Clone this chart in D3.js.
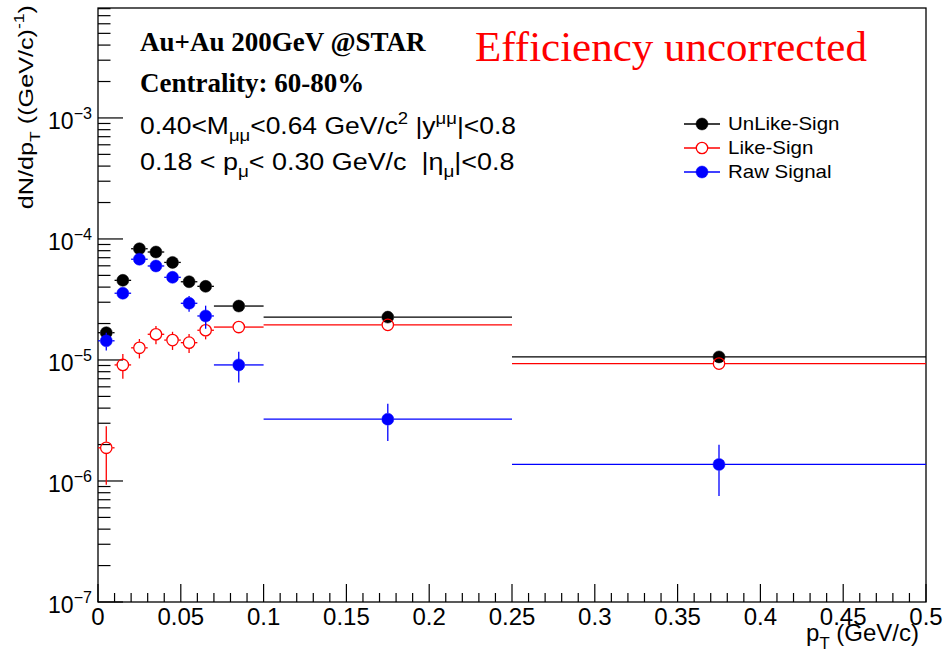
<!DOCTYPE html>
<html>
<head>
<meta charset="utf-8">
<script src="https://cdn.jsdelivr.net/npm/d3@7"></script>
<style>
  html, body { margin: 0; padding: 0; background: #fff; }
  svg { display: block; }
  text { white-space: pre; }
</style>
</head>
<body>
<svg id="chart" width="943" height="659"></svg>
<script>
// pT bins (GeV/c)
const binLow    = [0.00, 0.01, 0.02, 0.03, 0.04, 0.05, 0.06, 0.07, 0.10, 0.25];
const binHigh   = [0.01, 0.02, 0.03, 0.04, 0.05, 0.06, 0.07, 0.10, 0.25, 0.50];
const ptCenter  = [0.005, 0.015, 0.025, 0.035, 0.045, 0.055, 0.065, 0.085, 0.175, 0.375];

// dN/dpT yields
const unlikeSign    = [1.68e-5, 4.55e-5, 8.3e-5, 7.8e-5, 6.4e-5, 4.43e-5, 4.06e-5, 2.79e-5, 2.26e-5, 1.06e-5];
const unlikeSignErr = [1.5e-6, 2.5e-6, 3.0e-6, 3.0e-6, 2.7e-6, 2.2e-6, 2.0e-6, 1.2e-6, 0.5e-6, 0.25e-6];
const likeSign      = [1.88e-6, 9.1e-6, 1.26e-5, 1.63e-5, 1.46e-5, 1.39e-5, 1.76e-5, 1.87e-5, 1.95e-5, 9.33e-6];
const likeSignErr   = [0.95e-6, 2.1e-6, 2.3e-6, 2.8e-6, 2.5e-6, 2.5e-6, 2.8e-6, 1.0e-6, 0.4e-6, 0.2e-6];
const rawSignal     = [1.44e-5, 3.56e-5, 6.8e-5, 5.98e-5, 4.82e-5, 2.94e-5, 2.31e-5, 9.1e-6, 3.24e-6, 1.37e-6];
const rawSignalErr  = [2.4e-6, 3.5e-6, 3.5e-6, 3.5e-6, 3.2e-6, 4.4e-6, 5.0e-6, 2.6e-6, 1.1e-6, 0.62e-6];

// axis ticks
const xTickValues = [0, 0.05, 0.1, 0.15, 0.2, 0.25, 0.3, 0.35, 0.4, 0.45, 0.5];
const xTickLabels = ["0", "0.05", "0.1", "0.15", "0.2", "0.25", "0.3", "0.35", "0.4", "0.45", "0.5"];
const yDecades    = [-7, -6, -5, -4, -3];

const SANS = "'Liberation Sans', Arial, Helvetica, sans-serif";
const SERIF = "'Liberation Serif', 'Times New Roman', Times, serif";

const frame = { left: 98, right: 926, top: 8, bottom: 602 };
const svg = d3.select("#chart");

const x = d3.scaleLinear().domain([0, 0.5]).range([frame.left, frame.right]);
const y = d3.scaleLog().domain([1e-7, 8.1e-3]).range([frame.bottom, frame.top]);

// text with ROOT-like sub/superscripts; segments: [text, kind]
function richText(g, px, py, segs, size, family, opts = {}) {
  const sx = opts.scaleX || 1;
  const t = g.append("text")
    .attr("x", px).attr("y", py)
    .attr("font-family", family)
    .attr("font-size", size)
    .attr("fill", opts.fill || "#000")
    .attr("font-weight", opts.weight || "normal")
    .attr("text-anchor", opts.anchor || "start");
  let tr = opts.transform || "";
  if (sx !== 1) tr += ` translate(${px},${py}) scale(${sx},1) translate(${-px},${-py})`;
  if (tr) t.attr("transform", tr.trim());
  let shift = 0;
  segs.forEach(([txt, kind]) => {
    let target = 0, fs = size;
    if (kind === "sub") { target = size * 0.32; fs = size * 0.7; }
    if (kind === "sup") { target = -size * 0.42; fs = size * 0.7; }
    t.append("tspan").attr("dy", target - shift).attr("font-size", fs).text(txt);
    shift = target;
  });
  return t;
}

// frame
svg.append("rect")
  .attr("x", frame.left).attr("y", frame.top)
  .attr("width", frame.right - frame.left).attr("height", frame.bottom - frame.top)
  .attr("fill", "none").attr("stroke", "#000").attr("stroke-width", 1.3);

// x axis ticks
const axisG = svg.append("g").attr("stroke", "#000").attr("stroke-width", 1.2);
d3.range(0, 51).forEach(i => {
  const v = i * 0.01;
  const major = i % 5 === 0;
  axisG.append("line")
    .attr("x1", x(v)).attr("x2", x(v))
    .attr("y1", frame.bottom).attr("y2", frame.bottom - (major ? 18 : 9));
});
xTickValues.forEach((v, i) => {
  svg.append("text")
    .attr("x", x(v)).attr("y", frame.bottom + 23)
    .attr("text-anchor", "middle")
    .attr("font-family", SANS).attr("font-size", 24)
    .text(xTickLabels[i]);
});

// y axis ticks (log)
yDecades.forEach(d => {
  const base = Math.pow(10, d);
  axisG.append("line")
    .attr("x1", frame.left).attr("x2", frame.left + 25)
    .attr("y1", y(base)).attr("y2", y(base));
  for (let m = 2; m <= 9; m++) {
    const v = m * base;
    if (v > y.domain()[1]) break;
    axisG.append("line")
      .attr("x1", frame.left).attr("x2", frame.left + 12.5)
      .attr("y1", y(v)).attr("y2", y(v));
  }
  richText(svg, frame.left - 6, y(base) + 11, [["10", null], ["\u2212" + Math.abs(d), "sup"]], 23, SANS,
    { anchor: "end" });
});

// axis titles
richText(svg, 919, frame.bottom + 39, [["p", null], ["T", "sub"], [" (GeV/c)", null]], 24, SANS,
  { anchor: "end" });
richText(svg, 0, 0, [["dN/dp", null], ["T", "sub"], [" ((GeV/c)", null], ["-1", "sup"], [")", null]], 21, SANS,
  { anchor: "end", transform: "translate(33,5) rotate(-90)", scaleX: 1.2 });

// data series
const series = [
  { name: "UnLike-Sign", vals: unlikeSign, errs: unlikeSignErr, color: "#000000", open: false },
  { name: "Like-Sign",   vals: likeSign,   errs: likeSignErr,   color: "#ff0000", open: true },
  { name: "Raw Signal",  vals: rawSignal,  errs: rawSignalErr,  color: "#0000ff", open: false }
];
const R = 6;

series.forEach(s => {
  const g = svg.append("g");
  s.vals.forEach((v, i) => {
    const cx = x(ptCenter[i]), cy = y(v);
    const gap = R;
    const xl = x(binLow[i]), xh = x(binHigh[i]);
    const yu = y(v + s.errs[i]), yd = y(Math.max(v - s.errs[i], 1e-9));
    const seg = (x1, y1, x2, y2) => g.append("line")
      .attr("x1", x1).attr("y1", y1).attr("x2", x2).attr("y2", y2)
      .attr("stroke", s.color).attr("stroke-width", 1.3);
    if (xl < cx - gap) seg(xl, cy, cx - gap, cy);
    if (xh > cx + gap) seg(cx + gap, cy, xh, cy);
    if (yu < cy - gap) seg(cx, yu, cx, cy - gap);
    if (yd > cy + gap) seg(cx, cy + gap, cx, yd);
    g.append("circle")
      .attr("cx", cx).attr("cy", cy).attr("r", s.open ? R - 0.3 : R)
      .attr("fill", s.open ? "none" : s.color)
      .attr("stroke", s.color).attr("stroke-width", s.open ? 1.3 : 0.5);
  });
});

// legend
const legendY = [124, 148, 172];
series.forEach((s, i) => {
  const ly = legendY[i];
  svg.append("line").attr("x1", 684).attr("x2", 720).attr("y1", ly).attr("y2", ly)
    .attr("stroke", s.color).attr("stroke-width", 1.3);
  svg.append("circle").attr("cx", 702).attr("cy", ly).attr("r", s.open ? R - 0.3 : R)
    .attr("fill", s.open ? "#fff" : s.color).attr("stroke", s.color)
    .attr("stroke-width", s.open ? 1.3 : 0.5);
  richText(svg, 728, ly + 6, [[s.name, null]], 18.6, SANS, { scaleX: 1.1 });
});

// annotations
svg.append("text").attr("x", 140).attr("y", 51)
  .attr("font-family", SERIF).attr("font-weight", "bold").attr("font-size", 27)
  .text("Au+Au 200GeV @STAR");
svg.append("text").attr("x", 140).attr("y", 92)
  .attr("font-family", SERIF).attr("font-weight", "bold").attr("font-size", 27)
  .text("Centrality: 60-80%");
richText(svg, 140, 134,
  [["0.40<M", null], ["\u03BC\u03BC", "sub"], ["<0.64 GeV/c", null], ["2", "sup"], [" |y", null], ["\u03BC\u03BC", "sup"], ["|<0.8", null]],
  23, SANS, { scaleX: 1.15 });
richText(svg, 140, 170,
  [["0.18 < p", null], ["\u03BC", "sub"], ["< 0.30 GeV/c  |\u03B7", null], ["\u03BC", "sub"], ["|<0.8", null]],
  23, SANS, { scaleX: 1.17 });
svg.append("text").attr("x", 475).attr("y", 61)
  .attr("font-family", SERIF).attr("font-size", 43).attr("fill", "#ff0000")
  .text("Efficiency uncorrected");
</script>
</body>
</html>
